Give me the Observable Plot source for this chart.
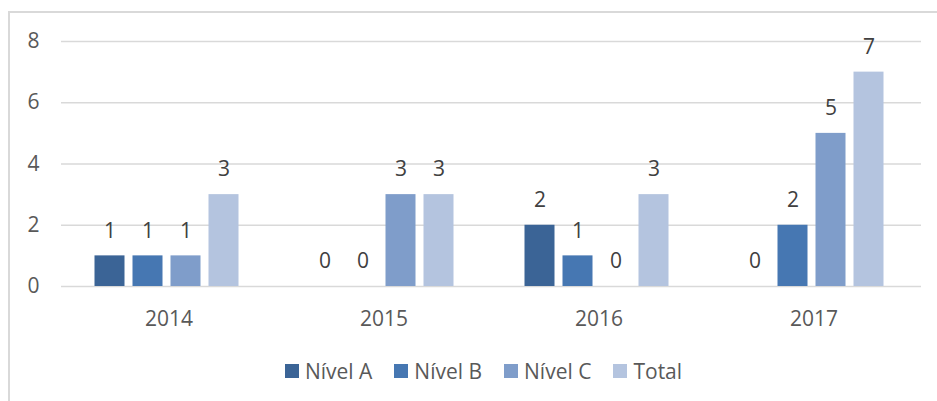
<!DOCTYPE html>
<html>
<head>
<meta charset="utf-8">
<script src="https://cdn.jsdelivr.net/npm/d3@7"></script>
<script src="https://cdn.jsdelivr.net/npm/@observablehq/plot@0.6"></script>
<style>
  html, body { margin: 0; padding: 0; background: #fff; overflow: hidden; width: 937px; height: 401px; }
  body { position: relative; font-family: "Open Sans", sans-serif; }
  #frame { position: absolute; left: 8px; top: 11px; width: 960px; height: 420px; border: 2px solid #d9d9d9; box-sizing: border-box; }
  #chart { position: absolute; left: 0; top: 0; }
  #legend { position: absolute; left: 15px; top: 357px; width: 937px; display: flex; justify-content: center; align-items: center; font-size: 21px; color: #595959; }
  .item { display: flex; align-items: center; margin: 0 11px; }
  .sw { width: 14px; height: 14px; margin-right: 6px; }
</style>
</head>
<body>
<div id="frame"></div>
<div id="chart"></div>
<div id="legend"></div>
<script>
const years = ["2014", "2015", "2016", "2017"];
const series = ["Nível A", "Nível B", "Nível C", "Total"];
const nivelA = [1, 0, 2, 0];
const nivelB = [1, 0, 1, 2];
const nivelC = [1, 3, 0, 5];
const total  = [3, 3, 3, 7];
const colors = ["#3b6496", "#4677b2", "#7f9dca", "#b4c4df"];
const yTicks = [0, 2, 4, 6, 8];

const seriesValues = [nivelA, nivelB, nivelC, total];
const data = [];
years.forEach((yr, i) => {
  series.forEach((s, j) => data.push({year: yr, series: s, value: seriesValues[j][i]}));
});

const chart = Plot.plot({
  width: 937,
  height: 345,
  marginLeft: 60,
  marginRight: 16,
  marginTop: 41,
  marginBottom: 59,
  style: {fontFamily: "'Open Sans', sans-serif", fontSize: "21px", color: "#595959", background: "transparent", overflow: "visible"},
  fx: {domain: years, padding: 0, label: null, tickSize: 0, tickPadding: 25, axis: "bottom"},
  x: {domain: series, axis: null, paddingInner: 8 / 39, paddingOuter: 0.859},
  y: {domain: [0, 8], ticks: yTicks, label: null, tickSize: 0, tickPadding: 22},
  color: {domain: series, range: colors},
  marks: [
    Plot.ruleY(yTicks, {stroke: "#d9d9d9", strokeWidth: 1.5}),
    Plot.barY(data, {fx: "year", x: "series", y: "value", fill: "series", dx: -1.5}),
    Plot.text(data, {fx: "year", x: "series", y: "value", text: d => String(d.value), dy: -25, dx: -1.5, fill: "#404040", fontSize: 21})
  ]
});
document.getElementById("chart").appendChild(chart);

const legend = document.getElementById("legend");
series.forEach((s, i) => {
  const item = document.createElement("div");
  item.className = "item";
  const sw = document.createElement("div");
  sw.className = "sw";
  sw.style.background = colors[i];
  const t = document.createElement("span");
  t.textContent = s;
  item.appendChild(sw);
  item.appendChild(t);
  legend.appendChild(item);
});
</script>
</body>
</html>
